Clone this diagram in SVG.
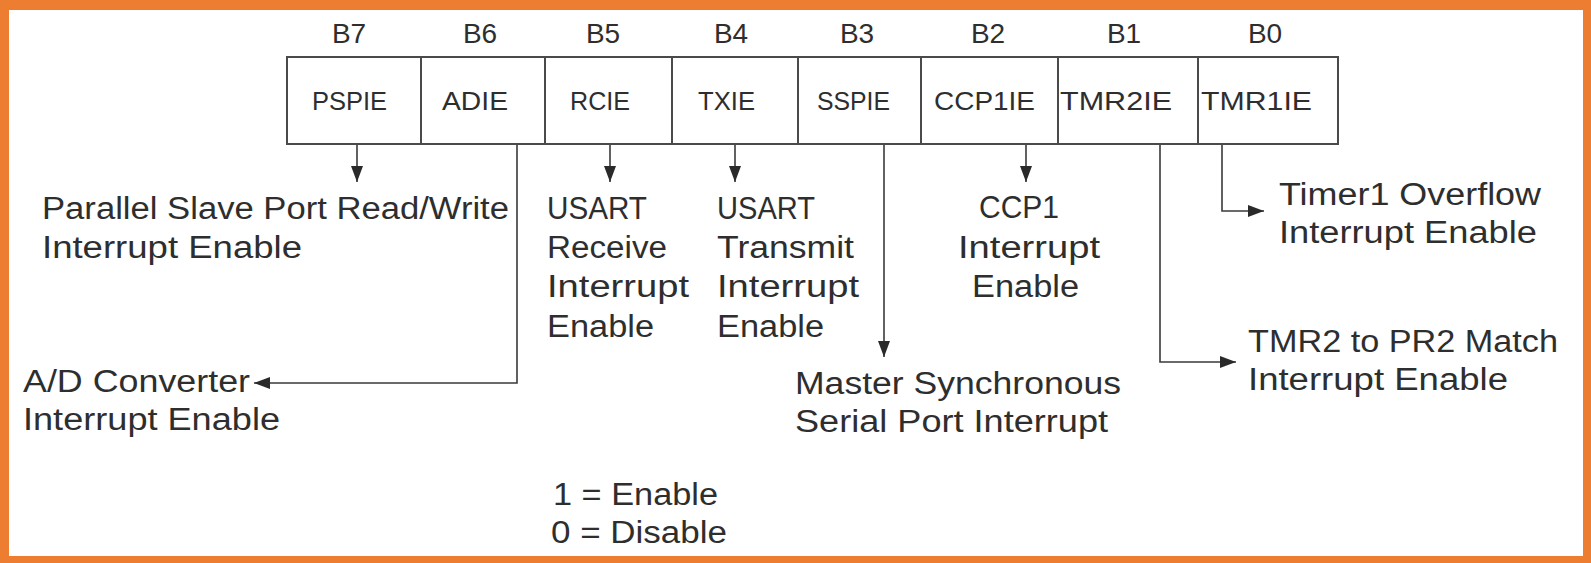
<svg xmlns="http://www.w3.org/2000/svg" width="1591" height="563" viewBox="0 0 1591 563">
  <style>
    .frame { fill: #ED7D31; fill-rule: evenodd; }
    .cell { fill: #ffffff; stroke: #4a4a4a; stroke-width: 2; }
    .bit { font-family: "Liberation Sans", Arial, sans-serif; font-size: 28px; fill: #2e2e2e; text-anchor: middle; }
    .name { font-family: "Liberation Sans", Arial, sans-serif; font-size: 26px; fill: #2e2e2e; }
    .desc { font-family: "Liberation Sans", Arial, sans-serif; font-size: 31px; fill: #2e2e2e; }
    .wire { fill: none; stroke: #3a3a3a; stroke-width: 1.6; marker-end: url(#head); }
  </style>
  <defs>
    <marker id="head" markerUnits="userSpaceOnUse" markerWidth="16" markerHeight="12" refX="16" refY="6" orient="auto">
      <path d="M0,0 L16,6 L0,12 z" fill="#2a2a2a"/>
    </marker>
  </defs>

  <rect width="1591" height="563" fill="#ffffff"/>
  <!-- orange frame -->
  <path class="frame" d="M0,0 H1591 V563 H0 Z M9,10 V556 H1583 V10 Z"/>

  <!-- register cells, bit 7 to bit 0 -->
  <g id="bit7">
    <rect class="cell" x="287" y="57" width="134" height="87"/>
    <text class="bit" x="349" y="43">B7</text>
    <text class="name" x="312" y="110" textLength="75" lengthAdjust="spacingAndGlyphs">PSPIE</text>
  </g>
  <g id="bit6">
    <rect class="cell" x="421" y="57" width="124" height="87"/>
    <text class="bit" x="480" y="43">B6</text>
    <text class="name" x="442" y="110" textLength="66" lengthAdjust="spacingAndGlyphs">ADIE</text>
  </g>
  <g id="bit5">
    <rect class="cell" x="545" y="57" width="127" height="87"/>
    <text class="bit" x="603" y="43">B5</text>
    <text class="name" x="570" y="110" textLength="60" lengthAdjust="spacingAndGlyphs">RCIE</text>
  </g>
  <g id="bit4">
    <rect class="cell" x="672" y="57" width="126" height="87"/>
    <text class="bit" x="731" y="43">B4</text>
    <text class="name" x="698" y="110" textLength="57" lengthAdjust="spacingAndGlyphs">TXIE</text>
  </g>
  <g id="bit3">
    <rect class="cell" x="798" y="57" width="123" height="87"/>
    <text class="bit" x="857" y="43">B3</text>
    <text class="name" x="817" y="110" textLength="73" lengthAdjust="spacingAndGlyphs">SSPIE</text>
  </g>
  <g id="bit2">
    <rect class="cell" x="921" y="57" width="137" height="87"/>
    <text class="bit" x="988" y="43">B2</text>
    <text class="name" x="934" y="110" textLength="101" lengthAdjust="spacingAndGlyphs">CCP1IE</text>
  </g>
  <g id="bit1">
    <rect class="cell" x="1058" y="57" width="140" height="87"/>
    <text class="bit" x="1124" y="43">B1</text>
    <text class="name" x="1060" y="110" textLength="112" lengthAdjust="spacingAndGlyphs">TMR2IE</text>
  </g>
  <g id="bit0">
    <rect class="cell" x="1198" y="57" width="140" height="87"/>
    <text class="bit" x="1265" y="43">B0</text>
    <text class="name" x="1201" y="110" textLength="111" lengthAdjust="spacingAndGlyphs">TMR1IE</text>
  </g>

  <!-- bit descriptions -->
  <g id="desc-pspie">
    <text class="desc" x="42" y="219" textLength="467" lengthAdjust="spacingAndGlyphs">Parallel Slave Port Read/Write</text>
    <text class="desc" x="42" y="258" textLength="260" lengthAdjust="spacingAndGlyphs">Interrupt Enable</text>
  </g>
  <g id="desc-adie">
    <text class="desc" x="23" y="392" textLength="227" lengthAdjust="spacingAndGlyphs">A/D Converter</text>
    <text class="desc" x="23" y="430" textLength="257" lengthAdjust="spacingAndGlyphs">Interrupt Enable</text>
  </g>
  <g id="desc-rcie">
    <text class="desc" x="547" y="219" textLength="100" lengthAdjust="spacingAndGlyphs">USART</text>
    <text class="desc" x="547" y="258" textLength="120" lengthAdjust="spacingAndGlyphs">Receive</text>
    <text class="desc" x="547" y="297" textLength="142" lengthAdjust="spacingAndGlyphs">Interrupt</text>
    <text class="desc" x="547" y="337" textLength="107" lengthAdjust="spacingAndGlyphs">Enable</text>
  </g>
  <g id="desc-txie">
    <text class="desc" x="717" y="219" textLength="98" lengthAdjust="spacingAndGlyphs">USART</text>
    <text class="desc" x="717" y="258" textLength="137" lengthAdjust="spacingAndGlyphs">Transmit</text>
    <text class="desc" x="717" y="297" textLength="142" lengthAdjust="spacingAndGlyphs">Interrupt</text>
    <text class="desc" x="717" y="337" textLength="107" lengthAdjust="spacingAndGlyphs">Enable</text>
  </g>
  <g id="desc-sspie">
    <text class="desc" x="795" y="394" textLength="326" lengthAdjust="spacingAndGlyphs">Master Synchronous</text>
    <text class="desc" x="795" y="432" textLength="313" lengthAdjust="spacingAndGlyphs">Serial Port Interrupt</text>
  </g>
  <g id="desc-ccp1ie">
    <text class="desc" x="979" y="218" textLength="80" lengthAdjust="spacingAndGlyphs">CCP1</text>
    <text class="desc" x="958" y="258" textLength="142" lengthAdjust="spacingAndGlyphs">Interrupt</text>
    <text class="desc" x="972" y="297" textLength="107" lengthAdjust="spacingAndGlyphs">Enable</text>
  </g>
  <g id="desc-tmr2ie">
    <text class="desc" x="1248" y="352" textLength="310" lengthAdjust="spacingAndGlyphs">TMR2 to PR2 Match</text>
    <text class="desc" x="1248" y="390" textLength="260" lengthAdjust="spacingAndGlyphs">Interrupt Enable</text>
  </g>
  <g id="desc-tmr1ie">
    <text class="desc" x="1279" y="205" textLength="262" lengthAdjust="spacingAndGlyphs">Timer1 Overflow</text>
    <text class="desc" x="1279" y="243" textLength="258" lengthAdjust="spacingAndGlyphs">Interrupt Enable</text>
  </g>
  <g id="legend">
    <text class="desc" x="553" y="505" textLength="165" lengthAdjust="spacingAndGlyphs">1 = Enable</text>
    <text class="desc" x="551" y="543" textLength="176" lengthAdjust="spacingAndGlyphs">0 = Disable</text>
  </g>

  <!-- connectors from each bit to its description -->
  <g id="connectors">
    <path class="wire" d="M357,145 V182"/>
    <path class="wire" d="M517,145 V383 H254"/>
    <path class="wire" d="M610,145 V182"/>
    <path class="wire" d="M735,145 V182"/>
    <path class="wire" d="M884,145 V357"/>
    <path class="wire" d="M1026,145 V182"/>
    <path class="wire" d="M1160,145 V362 H1236"/>
    <path class="wire" d="M1222,145 V211 H1264"/>
  </g>
</svg>
